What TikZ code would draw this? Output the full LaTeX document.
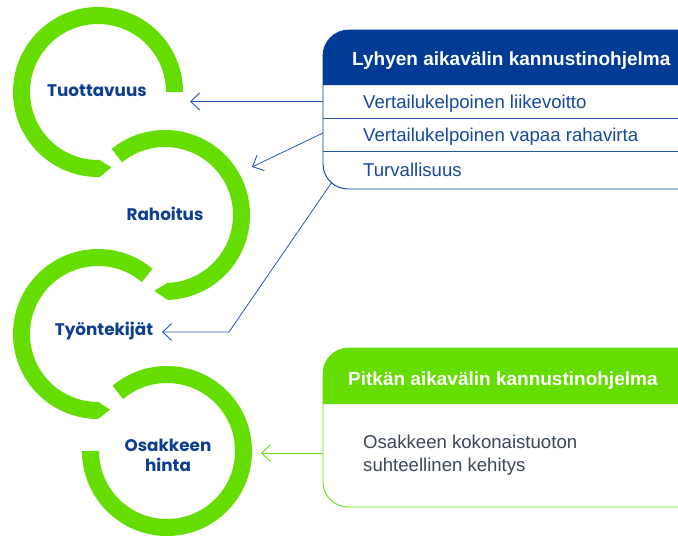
\documentclass[tikz,border=0pt]{standalone}
\usepackage{fontspec}
\setmainfont{Liberation Sans}
\newfontfamily\circfont{Poppins}
\usetikzlibrary{arrows.meta,calc}
\definecolor{lgreen}{RGB}{102,221,0}
\definecolor{dblue}{RGB}{0,60,150}
\definecolor{tblue}{RGB}{14,62,145}
\definecolor{rblue}{RGB}{24,72,160}
\definecolor{lblue}{RGB}{40,88,172}
\definecolor{bgrey}{RGB}{58,72,88}
\tikzset{
  ring/.style={line width=17pt, draw=lgreen},
  tipfill/.style={fill=lgreen},
  clabel/.style={font=\circfont\bfseries\fontsize{16.8}{20}\selectfont, text=tblue, align=center, inner sep=0pt},
  htext/.style={font=\bfseries\fontsize{19}{22}\selectfont, text=white, anchor=west, inner sep=0pt},
  rtext/.style={font=\fontsize{18.6}{23}\selectfont, text=rblue, anchor=west, inner sep=0pt},
  btext/.style={font=\fontsize{18.6}{23}\selectfont, text=bgrey, anchor=west, inner sep=0pt, align=left},
  arr/.style={-{Straight Barb[length=9pt,width=17pt,line width=0.9pt]}, line width=0.8pt, draw=lblue},
  garr/.style={-{Straight Barb[length=9pt,width=17pt,line width=0.9pt]}, line width=0.8pt, draw=lgreen},
  sep/.style={line width=0.8pt, draw=lblue}
}
\begin{document}
\begin{tikzpicture}[x=1pt,y=1pt]
\clip (0,0) rectangle (678,-538);
\fill[white] (0,0) rectangle (678,-538);

% ring 1
\coordinate (c1) at (98,-92);
\draw[ring] (c1) ++(0:76.5) arc[start angle=0,end angle=271.5,radius=76.5];
\fill[tipfill] ($(c1)+(271.2:68)$) -- ($(c1)+(271.2:85)$) -- ($(c1)+(280:76.5)$) -- cycle;
% ring 2
\coordinate (c2) at (165,-215);
\draw[ring] (c2) ++(129:76.5) arc[start angle=129,end angle=-88.5,radius=76.5];
\fill[tipfill] ($(c2)+(-88.2:68)$) -- ($(c2)+(-88.2:85)$) -- ($(c2)+(-98:76.5)$) -- cycle;
% ring 3
\coordinate (c3) at (98,-334);
\draw[ring] (c3) ++(50:76.5) arc[start angle=50,end angle=270.5,radius=76.5];
\fill[tipfill] ($(c3)+(270.2:68)$) -- ($(c3)+(270.2:85)$) -- ($(c3)+(279:76.5)$) -- cycle;
% ring 4
\coordinate (c4) at (167,-451);
\draw[ring] (c4) ++(130:76.5) arc[start angle=130,end angle=-180,radius=76.5];

% circle labels
\node[clabel] (tuo) at (97,-91) {Tuottavuus};
\node[clabel] (rah) at (165,-214) {Rahoitus};
\node[clabel] (tyo) at (104,-331) {Työntekijät};
\node[clabel] (osa) at (168,-455) {Osakkeen\\hinta};

% box 1
\fill[dblue] (700,-85) -- (323,-85) -- (323,-56) arc[start angle=180,end angle=90,radius=26] -- (700,-30) -- cycle;
\draw[line width=0.9pt, draw=dblue] (700,-30) -- (349,-30) arc[start angle=90,end angle=180,radius=26] -- (323,-164) arc[start angle=180,end angle=270,radius=25] -- (700,-189);
\draw[sep] (323,-118) -- (700,-118);
\draw[sep] (323,-151) -- (700,-151);
\node[htext] (h1) at (352,-61) {Lyhyen aikavälin kannustinohjelma};
\node[rtext] (r1) at (363,-104) {Vertailukelpoinen liikevoitto};
\node[rtext] (r2) at (363,-137) {Vertailukelpoinen vapaa rahavirta};
\node[rtext] (r3) at (363,-170) {Turvallisuus};

% box 2
\fill[lgreen] (700,-404) -- (323,-404) -- (323,-374) arc[start angle=180,end angle=90,radius=26] -- (700,-348) -- cycle;
\draw[line width=0.9pt, draw=lgreen] (700,-348) -- (349,-348) arc[start angle=90,end angle=180,radius=26] -- (323,-482) arc[start angle=180,end angle=270,radius=25] -- (700,-507);
\node[htext] (h2) at (348,-381) {Pitkän aikavälin kannustinohjelma};
\node[btext] (b1) at (363,-455) {Osakkeen kokonaistuoton\\suhteellinen kehitys};

% connectors
\coordinate (s1) at (323,-101.5);
\coordinate (e1) at (190,-101.5);
\coordinate (s2) at (323,-133);
\coordinate (e2) at (252,-167);
\coordinate (s3) at (332,-182);
\coordinate (k3) at (229,-332);
\coordinate (e3) at (162,-332);
\coordinate (s4) at (323,-453);
\coordinate (e4) at (261,-453);
\draw[arr] (s1) -- (e1);
\draw[arr] (s2) -- (e2);
\draw[arr] (s3) -- (k3) -- (e3);
\draw[garr] (s4) -- (e4);
\end{tikzpicture}
\end{document}
